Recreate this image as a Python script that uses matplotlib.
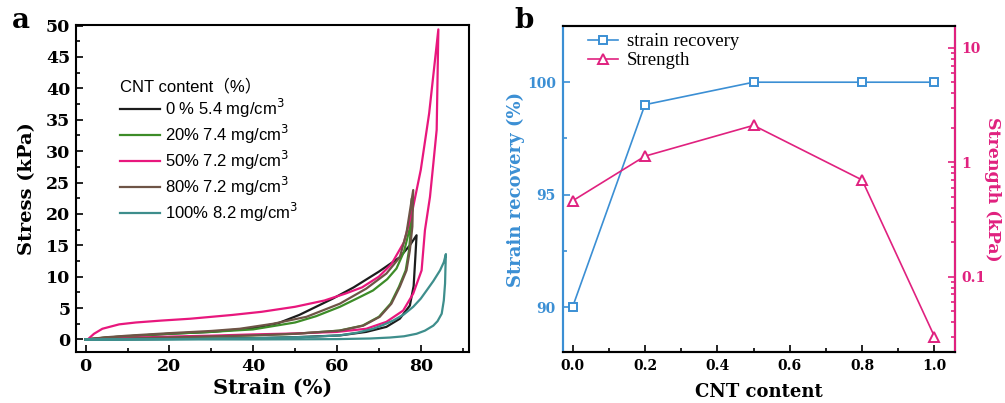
import matplotlib
matplotlib.use("Agg")
import matplotlib.pyplot as plt
from matplotlib.ticker import MultipleLocator, FixedLocator, NullFormatter, FuncFormatter

# ---- Panel a: stress-strain hysteresis loops ----
labels_a = ["0 % 5.4 mg/cm$^3$", "20% 7.4 mg/cm$^3$", "50% 7.2 mg/cm$^3$",
            "80% 7.2 mg/cm$^3$", "100% 8.2 mg/cm$^3$"]

# 0 % CNT
cnt0_load_strain = [0, 5, 10, 20, 30, 40, 46, 51, 55, 59, 64, 70, 75, 77.4, 79.0]
cnt0_load_stress = [0, 0.3, 0.5, 0.9, 1.2, 1.8, 2.6, 3.9, 5.2, 6.5, 8.3, 10.8, 13.1, 15.0, 16.6]
cnt0_unload_strain = [79.0, 78.7, 78.3, 77.4, 75, 71.8, 67, 60.7, 50, 40, 25, 10, 0]
cnt0_unload_stress = [16.6, 13.0, 8.5, 5.4, 3.3, 2.0, 1.2, 0.64, 0.35, 0.2, 0.1, 0.03, 0]

# 20 % CNT
cnt20_load_strain = [0, 5, 10, 20, 30, 40, 50, 55, 60.7, 65, 68.6, 72, 74.2, 76, 77.3, 77.9]
cnt20_load_stress = [0, 0.3, 0.5, 0.9, 1.2, 1.6, 2.7, 3.7, 5.2, 6.6, 7.8, 9.6, 11.3, 14.0, 17.5, 22.5]
cnt20_unload_strain = [77.9, 77.7, 77.2, 76.4, 74.8, 72.8, 70.0, 66.1, 60.5, 50, 40, 25, 10, 0]
cnt20_unload_stress = [22.5, 18.0, 14.2, 11.0, 8.4, 5.7, 3.6, 2.2, 1.4, 0.9, 0.65, 0.4, 0.15, 0]

# 50 % CNT
cnt50_load_strain = [0.5, 2, 4, 8, 12, 18, 25, 30, 35, 42, 50, 57, 62, 66, 70, 73, 76, 78, 80, 82, 84.2]
cnt50_load_stress = [0, 0.9, 1.7, 2.4, 2.7, 3.0, 3.3, 3.6, 3.9, 4.4, 5.2, 6.2, 7.3, 8.3, 10.0, 12.0,
                     15.5, 20.5, 27.0, 36.0, 49.4]
cnt50_unload_strain = [84.2, 83.8, 83.0, 82.2, 81.0, 80.2, 78.2, 75.8, 71.8, 67, 60, 50, 40, 30, 20,
                       10, 4, 0.5]
cnt50_unload_stress = [49.4, 33.4, 28.0, 22.7, 17.4, 11.0, 7.3, 4.6, 2.8, 1.7, 1.2, 0.95, 0.8, 0.6,
                       0.45, 0.25, 0.1, 0]

# 80 % CNT
cnt80_load_strain = [0, 5, 10, 20, 30, 36.8, 44.8, 52.7, 60.7, 67, 71.8, 75, 76.6, 78.2]
cnt80_load_stress = [0, 0.35, 0.6, 1.0, 1.35, 1.7, 2.5, 3.6, 5.7, 8.1, 10.5, 13.1, 17.0, 23.8]
cnt80_unload_strain = [78.2, 78.0, 77.4, 76.6, 75, 73, 70.2, 66.3, 60.7, 50, 40, 25, 10, 0]
cnt80_unload_stress = [23.8, 18.0, 14.2, 11.0, 8.4, 5.7, 3.6, 2.2, 1.4, 0.9, 0.65, 0.4, 0.15, 0]

# 100 % CNT
cnt100_load_strain = [0, 10, 20, 30, 40, 50, 55, 60.7, 65, 68.6, 71, 73.4, 76, 78.2, 80, 81.4, 83,
                      84.6, 85.5, 86.0]
cnt100_load_stress = [0, 0.02, 0.05, 0.1, 0.2, 0.35, 0.45, 0.65, 1.1, 1.7, 2.3, 3.0, 4.0, 5.2, 6.5,
                      7.8, 9.3, 11.0, 12.3, 13.6]
cnt100_unload_strain = [86.0, 85.9, 85.8, 85.5, 85, 84, 83, 81, 79, 76, 72.6, 68, 60, 50, 40, 20, 0]
cnt100_unload_stress = [13.6, 11.5, 8.9, 6.2, 4.1, 2.9, 2.2, 1.4, 0.9, 0.5, 0.3, 0.15, 0.05, 0.02,
                        0, 0, 0]

colors_a = ["#1c1c1c", "#3d8c28", "#e8177d", "#6e5446", "#3e8e8c"]

# ---- Panel b: strain recovery and strength vs CNT content ----
cnt_content = [0.0, 0.2, 0.5, 0.8, 1.0]
strain_recovery = [90, 99, 100, 100, 100]
strength = [0.46, 1.13, 2.1, 0.70, 0.030]

blue = "#3b8fd4"
pink = "#e0217f"

plt.rcParams["font.family"] = ["DejaVu Serif"]
plt.rcParams["mathtext.fontset"] = "dejavusans"

fig = plt.figure(figsize=(10.05, 4.03), dpi=100)
axa = fig.add_axes([0.0756, 0.1266, 0.391, 0.8114])
axb = fig.add_axes([0.560, 0.1266, 0.390, 0.8089])

loops = [
    (cnt0_load_strain, cnt0_load_stress, cnt0_unload_strain, cnt0_unload_stress),
    (cnt20_load_strain, cnt20_load_stress, cnt20_unload_strain, cnt20_unload_stress),
    (cnt50_load_strain, cnt50_load_stress, cnt50_unload_strain, cnt50_unload_stress),
    (cnt80_load_strain, cnt80_load_stress, cnt80_unload_strain, cnt80_unload_stress),
    (cnt100_load_strain, cnt100_load_stress, cnt100_unload_strain, cnt100_unload_stress),
]
for (lx, ly, ux, uy), col, lab in zip(loops, colors_a, labels_a):
    axa.plot(lx + ux, ly + uy, color=col, lw=1.6, label=lab, solid_joinstyle="round")

axa.set_xlim(-2.3, 91.5)
axa.set_ylim(-2.0, 50.1)
axa.xaxis.set_major_locator(MultipleLocator(20))
axa.xaxis.set_minor_locator(MultipleLocator(10))
axa.yaxis.set_major_locator(MultipleLocator(5))
axa.yaxis.set_minor_locator(MultipleLocator(2.5))
axa.tick_params(which="both", direction="in", top=False, right=False, width=1.2)
axa.tick_params(which="major", length=5, labelsize=12.5, pad=4)
axa.tick_params(which="minor", length=3)
for lbl in axa.get_xticklabels() + axa.get_yticklabels():
    lbl.set_fontweight("bold")
for sp in axa.spines.values():
    sp.set_linewidth(1.5)
axa.set_xlabel("Strain (%)", fontsize=15, fontweight="bold", labelpad=2)
axa.set_ylabel("Stress (kPa)", fontsize=14, fontweight="bold", labelpad=7)

leg = axa.legend(loc="upper left", bbox_to_anchor=(0.095, 0.858), frameon=False,
                 title="CNT content（%）", handlelength=2.4, handletextpad=0.3,
                 labelspacing=0.17, borderaxespad=0,
                 prop={"family": ["Liberation Sans", "Noto Sans CJK SC"], "size": 12})
leg.get_title().set_fontfamily(["Liberation Sans", "Noto Sans CJK SC"])
leg.get_title().set_fontsize(12)
leg._legend_box.align = "left"

fig.text(0.012, 0.93, "a", fontsize=20, fontweight="bold", family="DejaVu Serif")
fig.text(0.512, 0.93, "b", fontsize=20, fontweight="bold", family="DejaVu Serif")

# Panel b, left axis
axb.plot(cnt_content, strain_recovery, color=blue, lw=1.2, marker="s", ms=5.5,
         mfc="white", mec=blue, mew=1.4, label="strain recovery")
axb.set_xlim(-0.027, 1.056)
axb.set_ylim(88.0, 102.5)
axb.xaxis.set_major_locator(MultipleLocator(0.2))
axb.xaxis.set_minor_locator(MultipleLocator(0.1))
axb.xaxis.set_major_formatter(FuncFormatter(lambda v, p: f"{v:.1f}"))
axb.yaxis.set_major_locator(FixedLocator([90, 95, 100]))
axb.yaxis.set_minor_locator(FixedLocator([92.5, 97.5]))
axb.tick_params(which="both", direction="in", top=False, width=1.2)
axb.tick_params(which="major", length=5, labelsize=10, pad=5)
axb.tick_params(which="minor", length=3)
axb.tick_params(axis="y", colors=blue, which="both")
for lbl in axb.get_xticklabels() + axb.get_yticklabels():
    lbl.set_fontweight("bold")
axb.set_xlabel("CNT content", fontsize=13, fontweight="bold", labelpad=7)
axb.set_ylabel("Strain recovery (%)", fontsize=13, fontweight="bold", color=blue, labelpad=1)
for sp in axb.spines.values():
    sp.set_linewidth(1.5)
axb.spines["left"].set_color(blue)

# Panel b, right log axis
axr = axb.twinx()
axr.plot(cnt_content, strength, color=pink, lw=1.2, marker="^", ms=7.5,
         mfc="white", mec=pink, mew=1.4, label="Strength")
axr.set_yscale("log")
axr.set_ylim(0.022, 15.5)
axr.yaxis.set_major_locator(FixedLocator([0.1, 1, 10]))
axr.yaxis.set_major_formatter(FuncFormatter(lambda v, p: f"{v:g}"))
axr.yaxis.set_minor_formatter(NullFormatter())
axr.tick_params(which="both", direction="in", colors=pink, width=1.2)
axr.tick_params(which="major", length=5, labelsize=10, pad=5)
axr.tick_params(which="minor", length=3)
for lbl in axr.get_yticklabels():
    lbl.set_fontweight("bold")
axr.set_ylabel("Strength (kPa)", fontsize=12.5, fontweight="bold", color=pink,
               rotation=270, labelpad=11)
for sp in axr.spines.values():
    sp.set_linewidth(1.5)
axr.spines["right"].set_color(pink)
axr.spines["left"].set_color(blue)

handles = axb.get_lines() + axr.get_lines()
axb.legend(handles, [h.get_label() for h in handles], loc="upper left",
           bbox_to_anchor=(0.02, 1.03), frameon=False, handlelength=1.6,
           handletextpad=0.5, labelspacing=0.1,
           prop={"family": "Liberation Serif", "size": 13.5})

fig.savefig("out.png", dpi=100)
